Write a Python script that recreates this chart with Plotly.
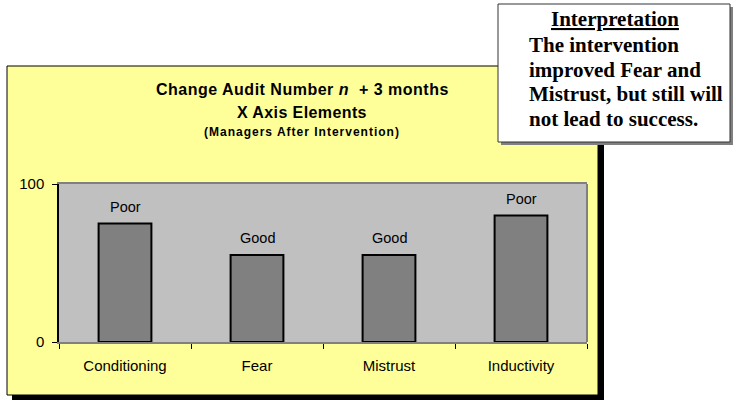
import plotly.graph_objects as go

categories = ["Conditioning", "Fear", "Mistrust", "Inductivity"]
values = [75, 55, 55, 80]
ratings = ["Poor", "Good", "Good", "Poor"]
y_ticks = [0, 100]

title_lines = [
    "Change Audit Number <i>n</i>  + 3 months",
    "X Axis Elements",
    "(Managers After Intervention)",
]
interp_title = "Interpretation"
interp_lines = [
    "The intervention",
    "improved Fear and",
    "Mistrust, but still will",
    "not lead to success.",
]

W, H = 736, 405
L, R, T, B = 59, 587, 184, 342


def px(x):
    return (x - L) / (R - L)


def py(y):
    return (B - y) / (B - T)


fig = go.Figure()
fig.add_trace(go.Bar(
    x=categories, y=values, width=0.4,
    marker=dict(color="#808080", line=dict(color="black", width=2)),
    hoverinfo="skip",
))

SANS = "Liberation Sans, Arial, sans-serif"
SERIF = "Liberation Serif, Times New Roman, serif"

annotations = []
for c, v, r in zip(categories, values, ratings):
    annotations.append(dict(x=c, y=v, xref="x", yref="y", text=r, showarrow=False,
                            yanchor="bottom", yshift=7,
                            font=dict(family=SANS, size=14.5, color="black")))

title_y = [90, 112, 132]
title_sz = [16, 16, 12]
title_ls = ["0.5px", "0.4px", "1px"]
for t, yy, sz, ls in zip(title_lines, title_y, title_sz, title_ls):
    annotations.append(dict(x=px(302), y=py(yy), xref="paper", yref="paper",
                            text=f"<span style='letter-spacing:{ls}'><b>{t}</b></span>",
                            showarrow=False, xanchor="center", yanchor="middle",
                            font=dict(family=SANS, size=sz, color="black")))

annotations.append(dict(x=px(615), y=py(19), xref="paper", yref="paper", text="<b>" + interp_title + "</b>",
                        showarrow=False, xanchor="center", yanchor="middle",
                        font=dict(family=SERIF, size=21, color="black", lineposition="under")))
for i, t in enumerate(interp_lines):
    annotations.append(dict(x=px(527), y=py(45 + i * 24.7), xref="paper", yref="paper", text="<b>" + t + "</b>",
                            showarrow=False, xanchor="left", yanchor="middle",
                            font=dict(family=SERIF, size=21, color="black")))

shapes = [
    dict(type="rect", xref="paper", yref="paper", x0=px(12), x1=px(604), y0=py(71), y1=py(400),
         fillcolor="black", line=dict(width=0), layer="below"),
    dict(type="rect", xref="paper", yref="paper", x0=px(7), x1=px(598), y0=py(66), y1=py(395),
         fillcolor="#FFFF99", line=dict(color="black", width=1), layer="below"),
    dict(type="rect", xref="paper", yref="paper", x0=0, x1=1, y0=0, y1=1,
         fillcolor="#C0C0C0", line=dict(width=0), layer="below"),
    dict(type="line", xref="paper", yref="paper", x0=1, x1=1, y0=0, y1=1,
         line=dict(color="#808080", width=2), layer="above"),
    dict(type="rect", xref="paper", yref="paper", x0=px(501), x1=px(733), y0=py(7), y1=py(145),
         fillcolor="#808080", line=dict(width=0), layer="above"),
    dict(type="rect", xref="paper", yref="paper", x0=px(498), x1=px(730), y0=py(4), y1=py(142),
         fillcolor="white", line=dict(color="#333333", width=1), layer="above"),
]

fig.update_layout(
    width=W, height=H,
    margin=dict(l=L, r=W - R, t=T, b=H - B, pad=0),
    paper_bgcolor="white", plot_bgcolor="#C0C0C0",
    showlegend=False, bargap=0.6,
    annotations=annotations, shapes=shapes,
    font=dict(family=SANS, size=14, color="black"),
)
fig.update_xaxes(
    type="category", range=[-0.5, 3.5], tickson="boundaries",
    ticks="outside", ticklen=5, tickcolor="black", tickwidth=1,
    showline=True, linecolor="#808080", linewidth=2, mirror=True,
    showgrid=False, ticklabelstandoff=9,
    tickfont=dict(family=SANS, size=15, color="black"),
)
fig.update_yaxes(
    range=[0, 100], tickvals=y_ticks, ticks="outside", ticklen=5, tickcolor="black",
    showline=True, linecolor="black", linewidth=1.5,
    showgrid=False, zeroline=False, ticklabelstandoff=5,
    tickfont=dict(family=SANS, size=15, color="black"),
)

fig.write_html("out.html", config={"displayModeBar": False},
               post_script="document.body.style.margin='0';document.body.style.overflow='hidden';")
